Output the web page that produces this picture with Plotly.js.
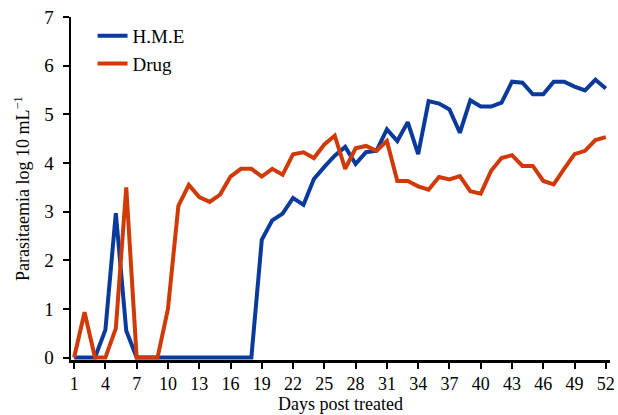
<!DOCTYPE html>
<html>
<head>
<meta charset="utf-8">
<script src="https://cdn.plot.ly/plotly-3.0.1.min.js"></script>
<style>html,body{margin:0;padding:0;background:#fff;}#chart{width:618px;height:415px;}</style>
</head>
<body>
<div id="chart"></div>
<script>
const days = [1,2,3,4,5,6,7,8,9,10,11,12,13,14,15,16,17,18,19,20,21,22,23,24,25,26,27,28,29,30,31,32,33,34,35,36,37,38,39,40,41,42,43,44,45,46,47,48,49,50,51,52];
const hme = [0,0,0,0.57,2.97,0.55,0,0,0,0,0,0,0,0,0,0,0,0,2.42,2.82,2.96,3.28,3.14,3.67,3.92,4.15,4.33,3.98,4.22,4.25,4.69,4.45,4.84,4.18,5.27,5.22,5.1,4.62,5.29,5.16,5.16,5.24,5.67,5.65,5.41,5.41,5.67,5.67,5.57,5.49,5.71,5.53];
const drug = [0,0.93,0,0,0.6,3.5,0,0,0,1.0,3.12,3.55,3.3,3.2,3.35,3.72,3.88,3.88,3.72,3.88,3.76,4.18,4.22,4.1,4.38,4.56,3.88,4.3,4.35,4.25,4.45,3.63,3.63,3.52,3.45,3.71,3.66,3.73,3.42,3.37,3.84,4.1,4.16,3.94,3.94,3.63,3.56,3.88,4.18,4.25,4.47,4.53];
const xTicks = [1,4,7,10,13,16,19,22,25,28,31,34,37,40,43,46,49,52];
const yTicks = [0,1,2,3,4,5,6,7];
const seriesNames = ["H.M.E", "Drug"];

const font = "Liberation Serif, Times New Roman, serif";
const traces = [
  {x: days, y: hme, name: seriesNames[0], type: "scatter", mode: "lines",
   line: {color: "#0a3a9c", width: 4}, cliponaxis: false},
  {x: days, y: drug, name: seriesNames[1], type: "scatter", mode: "lines",
   line: {color: "#cf3a06", width: 4}, cliponaxis: false}
];
const layout = {
  width: 618, height: 415,
  margin: {l: 71, r: 8, t: 17, b: 55},
  paper_bgcolor: "#fff", plot_bgcolor: "#fff",
  font: {family: font, size: 18, color: "#000"},
  showlegend: true,
  legend: {x: 0.04, y: 1.0, xanchor: "left", yanchor: "top", bgcolor: "rgba(0,0,0,0)",
           font: {family: font, size: 19, color: "#000"}, tracegroupgap: 0, itemwidth: 30},
  xaxis: {
    range: [0.7, 52.4], tickmode: "array", tickvals: xTicks, ticktext: xTicks.map(String),
    showline: true, linecolor: "#000", linewidth: 2.5, ticks: "outside", ticklen: 6,
    tickwidth: 2, tickcolor: "#000", showgrid: false, zeroline: false,
    tickfont: {family: font, size: 18, color: "#000"},
    title: {text: "Days post treated", font: {family: font, size: 18, color: "#000"}, standoff: 4}
  },
  yaxis: {
    range: [-0.05, 7], tickmode: "array", tickvals: yTicks, ticktext: yTicks.map(String),
    showline: true, linecolor: "#000", linewidth: 2.5, ticks: "outside", ticklen: 6,
    tickwidth: 2, tickcolor: "#000", showgrid: false, zeroline: false, ticklabelstandoff: 5,
    tickfont: {family: font, size: 19, color: "#000"},
    title: {text: "Parasitaemia log 10 mL<sup>−1</sup>", font: {family: font, size: 18, color: "#000"}, standoff: 10}
  }
};
Plotly.newPlot("chart", traces, layout, {staticPlot: true, displayModeBar: false});
</script>
</body>
</html>
